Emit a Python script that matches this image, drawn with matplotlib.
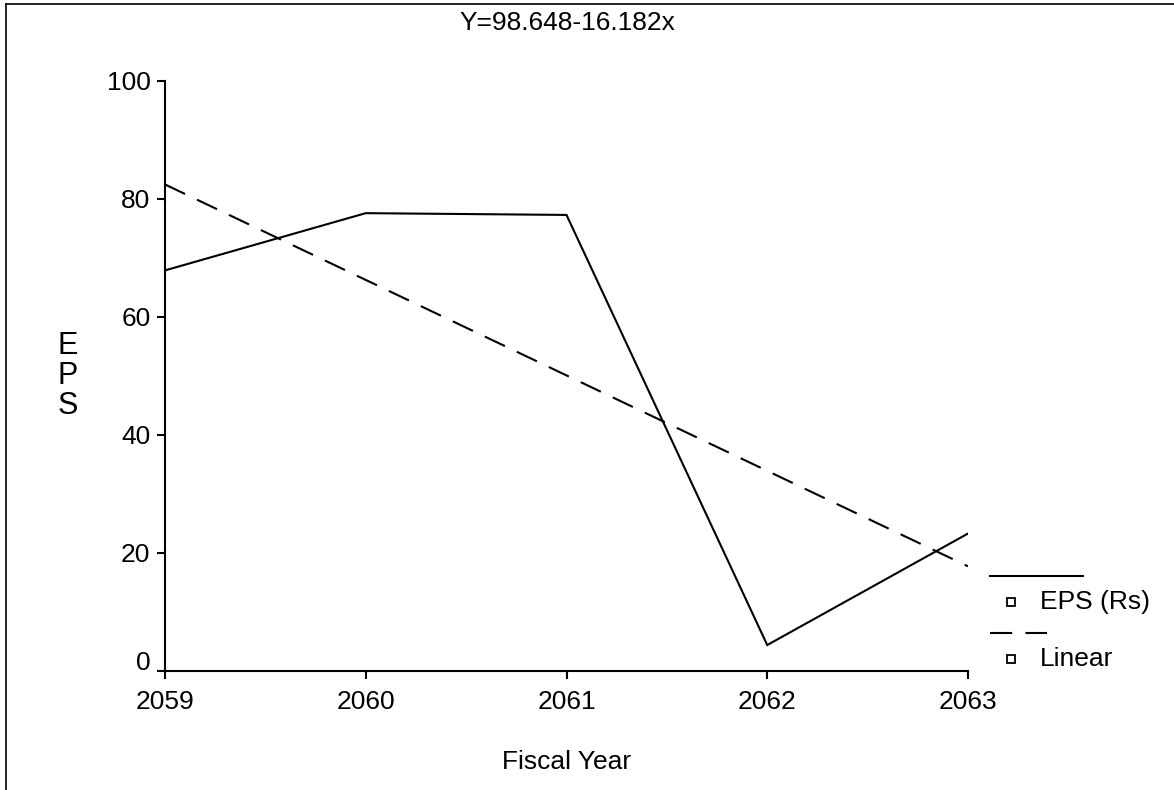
import matplotlib
matplotlib.use("Agg")
import matplotlib.pyplot as plt
import matplotlib.transforms as mtransforms
from matplotlib.lines import Line2D

plt.rcParams['font.family'] = ['Liberation Sans', 'DejaVu Sans']
plt.rcParams['lines.scale_dashes'] = False

# data
years = [2059, 2060, 2061, 2062, 2063]
eps = [67.9, 77.6, 77.3, 4.4, 23.3]
# fitted line Y = 98.648 - 16.182x, x = 1..5
linear = [82.466, 66.284, 50.102, 33.920, 17.738]
y_ticks = [0, 20, 40, 60, 80, 100]
titulo = "Y=98.648-16.182x"

W, H = 1174, 790
FS = 19
fig = plt.figure(figsize=(W / 100, H / 100), dpi=100)
ax = fig.add_axes([165 / W, 1 - 671 / H, (968 - 165) / W, (671 - 81) / H])

ax.plot(years, eps, color='black', lw=1.5, solid_joinstyle='miter')
ax.plot(years, linear, color='black', lw=1.5, dashes=(16, 9.5))

ax.set_xlim(2059, 2063)
ax.set_ylim(0, 100)
ax.set_xticks(years)
ax.set_yticks(y_ticks)
for s in ['top', 'right']:
    ax.spines[s].set_visible(False)
for s in ['left', 'bottom']:
    ax.spines[s].set_linewidth(1.5)
ax.tick_params(axis='both', direction='out', length=5.5, width=1.5,
               labelsize=FS, colors='black')
ax.tick_params(axis='y', pad=5)
ax.tick_params(axis='x', pad=8)

# the "0" label sits a little above its tick in the original
t0 = ax.yaxis.get_major_ticks()[0]
t0.label1.set_transform(t0.label1.get_transform() +
                        mtransforms.ScaledTranslation(0, 10 / 100, fig.dpi_scale_trans))

fig.text(567 / W, 1 - 23 / H, titulo, ha='center', va='center', fontsize=FS)
fig.text(567 / W, 1 - 762 / H, "Fiscal Year", ha='center', va='center', fontsize=FS)
fig.text(68 / W, 1 - 376 / H, "E\nP\nS", ha='center', va='center',
         fontsize=22, linespacing=1.0)

# legend drawn the way the original shows it
def px(x, y):
    return x / W, 1 - y / H

leg = [("EPS (Rs)", 576, 602, '-'), ("Linear", 633, 659, '--')]
for texto, yl, yt, estilo in leg:
    x0, y0 = px(990, yl)
    x1, _ = px(1083 if estilo == '-' else 1047, yl)
    ln = Line2D([x0, x1], [y0, y0], transform=fig.transFigure, color='black', lw=1.5)
    if estilo == '--':
        ln.set_dashes((16, 9.5))
    fig.add_artist(ln)
    mx, my = px(1011, yt)
    fig.add_artist(Line2D([mx], [my], transform=fig.transFigure, marker='s',
                          markersize=6, markerfacecolor='white',
                          markeredgecolor='black', markeredgewidth=1.3, ls='none'))
    tx, ty = px(1040, yt)
    fig.text(tx, ty, texto, ha='left', va='center', fontsize=FS)

# frame lines at top and left
fig.add_artist(Line2D([6 / W, 1], [1 - 4 / H, 1 - 4 / H], transform=fig.transFigure,
                      color='black', lw=1.2))
fig.add_artist(Line2D([6 / W, 6 / W], [0, 1 - 4 / H], transform=fig.transFigure,
                      color='black', lw=1.2))

fig.savefig("out.png", dpi=100)
